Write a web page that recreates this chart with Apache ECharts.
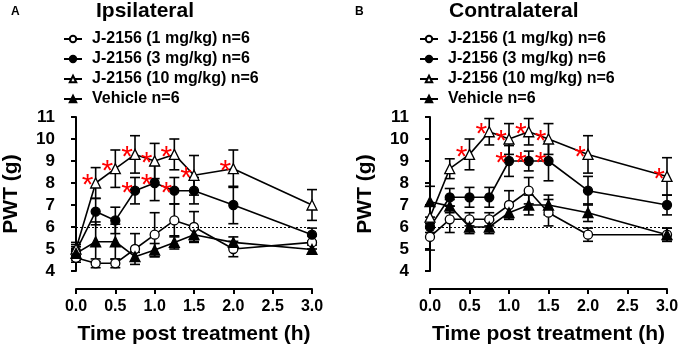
<!DOCTYPE html>
<html><head><meta charset="utf-8">
<script src="https://cdn.jsdelivr.net/npm/echarts@6/dist/echarts.min.js"></script>
<style>html,body{margin:0;padding:0;background:#fff}#c{width:684px;height:350px}</style>
</head><body><div id="c"></div>
<script>
const times = [0, 0.25, 0.5, 0.75, 1.0, 1.25, 1.5, 2.0, 3.0];
const xTicks = ['0.0','0.5','1.0','1.5','2.0','2.5','3.0'];
const names = ['J-2156 (1 mg/kg) n=6','J-2156 (3 mg/kg) n=6','J-2156 (10 mg/kg) n=6','Vehicle n=6'];
// Panel A: Ipsilateral
const ipsi1   = [4.6, 4.35, 4.35, 5.0, 5.65, 6.3, 6.0, 5.0, 5.3];
const ipsi1E  = [0.2, 0.2, 0.2, 0.7, 1.0, 0.75, 0.7, 0.35, 0.3];
const ipsi3   = [4.9, 6.7, 6.3, 7.65, 8.0, 7.65, 7.65, 7.0, 5.65];
const ipsi3E  = [0.3, 0.6, 0.6, 0.6, 0.8, 0.6, 0.6, 0.85, 0.3];
const ipsi10  = [5.0, 8.0, 8.65, 9.3, 9.0, 9.3, 8.35, 8.65, 7.0];
const ipsi10E = [0.3, 0.7, 0.85, 0.85, 0.8, 0.7, 0.9, 0.85, 0.7];
const ipsiV   = [4.8, 5.33, 5.33, 4.65, 4.95, 5.3, 5.65, 5.3, 4.98];
const ipsiVE  = [0.3, 0.9, 0.8, 0.2, 0.3, 0.3, 0.3, 0.25, 0.2];
const ipsiSig10 = [0,1,1,1,1,1,1,1,0];
const ipsiSig3  = [0,0,0,1,1,1,0,0,0];
// Panel B: Contralateral
const contra1   = [5.55, 6.35, 6.35, 6.35, 7.0, 7.65, 6.65, 5.65, 5.65];
const contra1E  = [0.6, 0.6, 0.3, 0.3, 0.65, 0.6, 0.6, 0.3, 0.3];
const contra3   = [6.0, 7.35, 7.35, 7.35, 9.0, 9.0, 9.0, 7.65, 7.0];
const contra3E  = [0.25, 0.4, 0.45, 0.45, 0.7, 0.45, 0.9, 0.65, 0.45];
const contra10  = [6.45, 8.65, 9.3, 10.33, 10.0, 10.33, 10.0, 9.3, 8.3];
const contra10E = [0.5, 0.45, 0.7, 0.6, 0.7, 0.6, 0.7, 0.85, 0.85];
const contraV   = [7.15, 6.95, 6.0, 6.0, 6.65, 7.0, 7.0, 6.65, 5.65];
const contraVE  = [0.7, 0.3, 0.3, 0.3, 0.3, 0.45, 0.45, 0.4, 0.3];
const contraSig10 = [0,0,1,1,1,1,1,1,1];
const contraSig3  = [0,0,0,0,1,1,1,0,0];

const FONT = 'Liberation Sans, Arial, sans-serif';
const symbols = ['circle','circle','triangle','triangle'];
const fills = ['#fff','#000','#fff','#000'];

function pairs(v){ return times.map((t,i)=>[t,v[i]]); }
function errData(v,e){ return times.map((t,i)=>[t,v[i]-e[i],v[i]+e[i]]); }

function errSeries(idx, v, e){
  return {type:'custom', xAxisIndex:idx, yAxisIndex:idx, z:1, silent:true,
    data: errData(v,e),
    renderItem:function(params, api){
      const x = api.value(0);
      const lo = api.coord([x, api.value(1)]);
      const hi = api.coord([x, api.value(2)]);
      const w = 5;
      const st = {stroke:'#000', lineWidth:1.6};
      return {type:'group', children:[
        {type:'line', shape:{x1:lo[0],y1:lo[1],x2:hi[0],y2:hi[1]}, style:st},
        {type:'line', shape:{x1:lo[0]-w,y1:lo[1],x2:lo[0]+w,y2:lo[1]}, style:st},
        {type:'line', shape:{x1:hi[0]-w,y1:hi[1],x2:hi[0]+w,y2:hi[1]}, style:st}
      ]};
    }};
}
function lineSeries(idx, k, v, extra){
  const s = {type:'line', name:names[k], xAxisIndex:idx, yAxisIndex:idx, z:3,
    data:pairs(v), symbol:symbols[k], symbolSize: k>=2 ? 10 : 9,
    itemStyle:{color:fills[k], borderColor:'#000', borderWidth:1.3},
    lineStyle:{color:'#000', width:1.6}, clip:false, animation:false};
  return Object.assign(s, extra||{});
}
function starSeries(idx, v, sig){
  const d = times.map((t,i)=>[t,v[i]]).filter((p,i)=>sig[i]);
  return {type:'custom', xAxisIndex:idx, yAxisIndex:idx, z:5, silent:true, data:d,
    renderItem:function(params, api){
      const p = api.coord([api.value(0), api.value(1)]);
      return {type:'text', style:{text:'*', x:p[0]-8, y:p[1]+3, fill:'#ff0000',
        font:'30px '+FONT, align:'center', verticalAlign:'middle'}};
    }};
}

function xAxisCfg(idx){
  return {type:'value', gridIndex:idx, min:0, max:3, interval:0.5, offset:18,
    axisLine:{show:true, lineStyle:{color:'#000', width:2}},
    axisTick:{show:true, length:5, lineStyle:{color:'#000', width:2}},
    axisLabel:{color:'#000', fontFamily:FONT, fontWeight:'bold', fontSize:16, margin:10,
      formatter:(v)=>xTicks[Math.round(v*2)]},
    splitLine:{show:false},
    name:'Time post treatment (h)', nameLocation:'middle', nameGap:35,
    nameTextStyle:{color:'#000', fontFamily:FONT, fontWeight:'bold', fontSize:21}};
}
function yAxisCfg(idx){
  return {type:'value', gridIndex:idx, min:4, max:11, interval:1, offset:18,
    axisLine:{show:true, lineStyle:{color:'#000', width:2}},
    axisTick:{show:true, length:5, lineStyle:{color:'#000', width:2}},
    axisLabel:{color:'#000', fontFamily:FONT, fontWeight:'bold', fontSize:17, margin:3},
    splitLine:{show:false},
    name:'PWT (g)', nameLocation:'middle', nameGap:36, nameRotate:90,
    nameTextStyle:{color:'#000', fontFamily:FONT, fontWeight:'bold', fontSize:21}};
}
function legendCfg(idx, left){
  return {orient:'vertical', left:left, top:31, padding:0, itemWidth:18, itemHeight:8, itemGap:4,
    data:names, selectedMode:false,
    textStyle:{color:'#000', fontFamily:FONT, fontWeight:'bold', fontSize:16, padding:[0,0,0,5]}};
}

const dotted = {silent:true, symbol:['none','none'], label:{show:false},
  lineStyle:{color:'#000', type:[2,2], width:1}, data:[{yAxis:6}]};

const chart = echarts.init(document.getElementById('c'), null, {renderer:'canvas'});
chart.setOption({
  animation:false,
  title:[
    {text:'A', left:11, top:6, padding:0, textStyle:{fontFamily:FONT, fontWeight:'bold', fontSize:12, color:'#000'}},
    {text:'Ipsilateral', left:96, top:1, padding:0, textStyle:{fontFamily:FONT, fontWeight:'bold', fontSize:21, color:'#000'}},
    {text:'B', left:355, top:6, padding:0, textStyle:{fontFamily:FONT, fontWeight:'bold', fontSize:12, color:'#000'}},
    {text:'Contralateral', left:449, top:1, padding:0, textStyle:{fontFamily:FONT, fontWeight:'bold', fontSize:21, color:'#000'}}
  ],
  legend:[legendCfg(0, 63), legendCfg(1, 419)],
  grid:[
    {left:76, right:684-312, top:117, bottom:350-271, containLabel:false, outerBoundsMode:'none'},
    {left:430, right:684-667, top:117, bottom:350-271, containLabel:false, outerBoundsMode:'none'}
  ],
  xAxis:[xAxisCfg(0), xAxisCfg(1)],
  yAxis:[yAxisCfg(0), yAxisCfg(1)],
  series:[
    errSeries(0, ipsi1, ipsi1E), errSeries(0, ipsi3, ipsi3E), errSeries(0, ipsi10, ipsi10E), errSeries(0, ipsiV, ipsiVE),
    lineSeries(0, 0, ipsi1, {markLine:dotted}), lineSeries(0, 1, ipsi3), lineSeries(0, 2, ipsi10), lineSeries(0, 3, ipsiV),
    starSeries(0, ipsi10, ipsiSig10), starSeries(0, ipsi3, ipsiSig3),
    errSeries(1, contra1, contra1E), errSeries(1, contra3, contra3E), errSeries(1, contra10, contra10E), errSeries(1, contraV, contraVE),
    lineSeries(1, 0, contra1, {markLine:dotted}), lineSeries(1, 1, contra3), lineSeries(1, 2, contra10), lineSeries(1, 3, contraV),
    starSeries(1, contra10, contraSig10), starSeries(1, contra3, contraSig3)
  ]
});
</script></body></html>
